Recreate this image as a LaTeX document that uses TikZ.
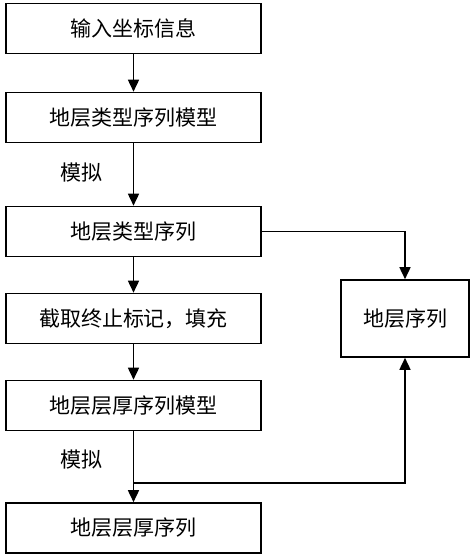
\documentclass[tikz,border=0pt]{standalone}
\usepackage{fontspec}
\setmainfont{Noto Sans CJK SC}
\usetikzlibrary{arrows.meta}
\begin{document}
\begin{tikzpicture}[x=1pt,y=-1pt,
  box/.style={draw, line width=1.6pt, minimum width=255pt, minimum height=50pt, inner sep=0pt, font=\fontsize{21}{24}\selectfont},
  rbox/.style={box, minimum width=128pt, minimum height=77pt},
  conn/.style={line width=1.6pt, -{Triangle[length=12pt,width=11pt]}},
  lab/.style={font=\fontsize{21}{24}\selectfont}]
\useasboundingbox (0,0) rectangle (474,560);
\node[box] (b1) at (133.5,28.5) {输入坐标信息};
\node[box] (b2) at (133.5,117.5) {地层类型序列模型};
\node[box] (b3) at (133.5,231.5) {地层类型序列};
\node[box] (b4) at (133.5,318.5) {截取终止标记，填充};
\node[box] (b5) at (133.5,405.5) {地层层厚序列模型};
\node[box] (b6) at (133.5,528) {地层层厚序列};
\node[rbox] (r) at (405,318.5) {地层序列};
\node[lab] (l1) at (81,173) {模拟};
\node[lab] (l2) at (81,460) {模拟};
\coordinate (j) at (133.5,483);
\draw[conn] (b1) -- (b2);
\draw[conn] (b2) -- (b3);
\draw[conn] (b3) -- (b4);
\draw[conn] (b4) -- (b5);
\draw[conn] (b5) -- (b6);
\draw[conn] (b3.east) -| (r.north);
\draw[conn] (j) -| (r.south);
\end{tikzpicture}
\end{document}
